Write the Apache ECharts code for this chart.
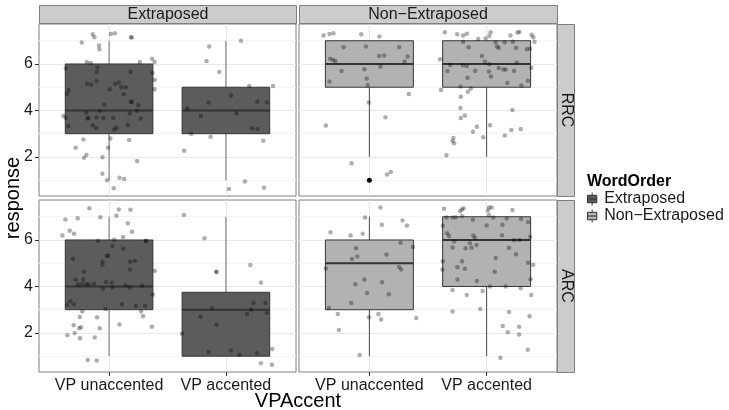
<!DOCTYPE html>
<html>
<head>
<meta charset="utf-8">
<title>response by VPAccent, WordOrder and clause type</title>
<script src="https://cdn.jsdelivr.net/npm/echarts@6.0.0/dist/echarts.min.js"></script>
<style>
html, body { margin: 0; padding: 0; background: #fff; }
#chart { width: 729px; height: 410px; }
</style>
</head>
<body>
<div id="chart"></div>
<script>
const vpAccent = ['VP unaccented', 'VP accented'];
const wordOrder = ['Extraposed', 'Non\u2212Extraposed'];
const clauseType = ['RRC', 'ARC'];
const yTicks = [2, 4, 6];
const yMinorTicks = [1, 3, 5, 7];

// box stats per VPAccent level: [min, Q1, median, Q3, max]
const boxExtraposedRRC = [[1, 3, 4, 6, 7], [1, 3, 4, 5, 7]];
const boxNonExtraposedRRC = [[2, 5, 6, 7, 7], [2, 5, 6, 7, 7]];
const boxExtraposedARC = [[1, 3, 4, 6, 7], [1, 1, 3, 3.75, 7]];
const boxNonExtraposedARC = [[1, 3, 5, 6, 7], [1, 4, 6, 7, 7]];

// outliers [VPAccent index, response]
const outliersNonExtraposedRRC = [[0, 1]];

// jittered responses: [horizontal jitter, response]
const jitExtraposedRRCUnacc = [[-0.14,7.28],[-0.126,7.15],[0.014,7.29],[0.049,7.32],[0.189,7.15],[0.192,7.14],[-0.234,6.92],[-0.086,6.79],[-0.083,6.63],[-0.19,6.09],[-0.157,6.04],[-0.1,5.86],[-0.106,5.66],[0.263,6.09],[0.369,6.23],[0.389,6.09],[-0.371,5.81],[0.371,5.61],[0.391,5.31],[0.389,4.91],[0.183,5.67],[-0.109,5.27],[-0.189,5.15],[-0.154,5.11],[-0.346,4.88],[-0.36,4.72],[0.006,4.91],[0.051,5.14],[0.083,5.2],[0.103,5.0],[0.143,5.0],[0.126,4.7],[-0.04,4.25],[0.186,4.37],[0.194,4.36],[0.251,4.22],[-0.08,3.98],[-0.197,3.91],[0.177,3.88],[0.24,3.99],[-0.391,3.76],[-0.371,3.68],[-0.183,3.66],[-0.18,3.67],[-0.109,3.7],[-0.049,3.68],[0.037,3.68],[0.271,3.65],[-0.349,3.33],[-0.14,3.36],[-0.111,3.25],[0.043,3.18],[0.063,3.26],[0.16,3.38],[-0.22,2.75],[0.011,2.79],[0.171,2.73],[-0.286,2.4],[-0.009,2.4],[-0.194,2.09],[-0.214,1.97],[-0.057,1.99],[0.24,1.83],[-0.057,1.28],[-0.017,1.0],[0.089,1.11],[0.129,1.05],[0.04,0.65]];
const jitExtraposedRRCAcc = [[0.129,7.0],[-0.143,6.75],[-0.166,6.13],[-0.057,5.66],[0.2,5.05],[0.403,5.05],[0.043,4.64],[-0.149,4.34],[0.269,4.38],[0.351,4.35],[-0.331,4.08],[0.091,3.88],[-0.214,3.76],[0.223,3.23],[0.271,3.2],[-0.297,3.0],[-0.131,2.87],[0.32,2.7],[-0.357,2.27],[0.163,0.94],[0.026,0.62],[0.326,0.67]];
const jitNonExtraposedRRCUnacc = [[-0.391,7.22],[-0.34,7.29],[-0.306,7.32],[-0.069,7.28],[0.086,7.18],[-0.22,6.72],[-0.029,6.75],[0.254,6.72],[-0.334,6.22],[-0.309,6.17],[-0.289,6.13],[0.083,6.34],[0.126,6.36],[0.326,6.32],[0.3,6.11],[0.094,5.89],[-0.237,5.7],[-0.043,5.77],[-0.023,5.37],[-0.34,5.25],[-0.014,5.1],[0.337,4.71],[-0.006,4.34],[0.137,3.71],[-0.371,3.35],[-0.151,1.73],[0.151,1.25],[0.183,1.35]];
const jitNonExtraposedRRCAcc = [[-0.357,7.36],[-0.251,7.28],[-0.2,7.22],[-0.169,7.3],[0.034,7.36],[0.023,7.2],[-0.071,7.08],[-0.009,7.1],[0.203,7.23],[0.263,7.35],[0.28,7.38],[0.383,7.26],[0.397,7.15],[0.409,6.96],[-0.2,6.96],[0.077,6.93],[0.154,6.93],[0.223,6.96],[0.089,6.75],[0.103,6.69],[-0.154,6.72],[0.251,6.7],[0.343,6.63],[0.369,6.65],[-0.04,6.34],[-0.397,6.2],[-0.014,6.1],[-0.311,5.96],[-0.203,5.94],[-0.169,5.91],[0.023,5.99],[0.257,6.06],[-0.334,5.7],[-0.097,5.71],[0.02,5.68],[0.103,5.83],[0.143,5.76],[0.163,5.76],[0.234,5.71],[0.38,5.84],[-0.163,5.41],[0.037,5.46],[0.177,5.18],[0.351,5.28],[-0.389,4.88],[-0.223,5.03],[-0.134,4.95],[-0.16,4.8],[0.297,5.07],[-0.22,4.59],[-0.223,4.11],[-0.22,3.68],[-0.186,3.78],[0.22,4.02],[-0.083,3.3],[-0.117,3.08],[0.029,3.36],[0.211,3.16],[0.291,3.2],[0.154,2.92],[-0.029,2.85],[-0.283,2.82],[-0.291,2.69],[-0.277,2.59],[-0.343,2.07]];
const jitExtraposedARCUnacc = [[-0.169,7.37],[0.083,7.31],[0.183,7.3],[-0.374,6.88],[-0.269,6.94],[-0.074,6.98],[0.063,7.04],[0.16,6.72],[-0.337,6.4],[-0.3,6.27],[-0.4,6.19],[0.12,6.13],[0.197,6.35],[-0.097,5.97],[0.043,6.01],[0.314,5.96],[0.317,5.97],[0.029,5.74],[0.123,5.62],[-0.309,5.19],[-0.02,5.32],[-0.006,5.32],[-0.057,5.06],[-0.057,4.92],[0.18,5.06],[0.22,5.1],[0.177,4.73],[0.391,4.66],[-0.214,4.63],[-0.22,4.3],[-0.286,4.3],[-0.229,4.1],[-0.194,4.1],[-0.174,4.1],[-0.131,4.12],[-0.266,4.08],[-0.026,4.19],[0.023,4.17],[-0.054,3.91],[0.029,3.96],[0.14,4.05],[0.177,3.96],[0.283,4.04],[0.374,3.65],[-0.331,3.36],[-0.36,3.21],[-0.3,3.24],[0.109,3.24],[0.229,3.16],[0.309,3.16],[-0.031,3.03],[-0.229,2.92],[0.274,2.92],[0.291,2.72],[-0.251,2.69],[-0.103,2.68],[0.366,2.27],[0.089,2.36],[-0.303,2.33],[-0.257,2.2],[-0.24,2.25],[-0.08,2.2],[-0.294,2.0],[-0.357,1.9],[-0.249,1.77],[-0.123,1.8],[-0.183,0.84],[-0.106,0.82]];
const jitExtraposedARCAcc = [[-0.36,7.08],[-0.183,6.07],[-0.083,4.63],[-0.08,4.62],[0.209,4.92],[0.3,4.17],[-0.12,3.07],[-0.217,2.71],[-0.08,2.36],[0.237,3.29],[0.339,3.29],[0.18,2.82],[0.217,3.01],[0.351,2.87],[-0.377,1.97],[-0.149,1.18],[0.043,1.24],[0.117,1.06],[0.266,1.13],[0.397,1.31],[0.3,0.7],[0.394,0.63]];
const jitNonExtraposedARCUnacc = [[0.094,7.4],[-0.037,6.97],[0.283,6.84],[0.32,6.62],[0.106,6.66],[-0.331,6.33],[-0.16,6.19],[-0.057,6.27],[0.266,5.88],[0.371,5.7],[-0.114,5.64],[0.146,5.38],[-0.103,5.29],[-0.149,5.18],[0.254,4.84],[0.271,4.73],[-0.371,4.77],[-0.043,4.3],[0.109,4.18],[-0.12,4.09],[-0.02,3.72],[0.166,3.66],[-0.154,3.29],[-0.346,3.07],[-0.269,2.81],[-0.003,2.68],[0.077,2.81],[0.1,2.58],[0.4,2.64],[-0.26,2.13],[-0.083,1.05]];
const jitNonExtraposedARCAcc = [[-0.363,7.34],[-0.226,7.24],[-0.211,7.31],[-0.197,7.37],[0.02,7.4],[0.043,7.4],[0.011,7.27],[0.22,7.29],[-0.343,6.97],[-0.263,6.98],[-0.209,7.03],[-0.289,6.97],[0.02,7.08],[0.057,6.97],[-0.117,6.87],[0.171,6.92],[0.294,6.9],[-0.374,6.61],[0.0,6.62],[0.134,6.65],[0.354,6.77],[-0.337,6.29],[-0.32,6.17],[-0.114,6.19],[-0.1,6.1],[0.131,6.2],[0.371,6.14],[-0.277,5.93],[-0.143,5.86],[-0.086,5.78],[0.234,5.99],[0.28,6.0],[-0.291,5.68],[-0.18,5.64],[-0.129,5.67],[0.191,5.67],[0.251,5.39],[0.077,5.23],[-0.374,5.09],[-0.209,5.09],[0.354,5.02],[0.397,4.93],[-0.377,4.73],[-0.249,4.83],[-0.186,4.76],[0.069,4.63],[0.374,4.31],[-0.249,4.3],[-0.083,4.24],[0.029,4.0],[0.163,4.0],[0.291,3.92],[-0.291,3.85],[-0.034,3.81],[-0.169,3.63],[0.38,3.63],[-0.054,3.03],[-0.291,2.92],[0.191,2.9],[0.366,2.72],[0.137,2.3],[0.277,2.27],[0.18,2.03],[0.277,1.93],[0.351,1.28],[0.117,0.93]];

const FONT = '"Liberation Sans", Arial, sans-serif';
const BOX_WIDTH = 0.75;
const fills = ['#5c5c5c', '#b2b2b2'];
const whiskerColors = ['#707070', '#484848'];

const panels = [
  { left: 39, top: 24, width: 257, wo: 0, box: boxExtraposedRRC, jit: [jitExtraposedRRCUnacc, jitExtraposedRRCAcc], out: [] },
  { left: 299, top: 24, width: 258, wo: 1, box: boxNonExtraposedRRC, jit: [jitNonExtraposedRRCUnacc, jitNonExtraposedRRCAcc], out: outliersNonExtraposedRRC },
  { left: 39, top: 200, width: 257, wo: 0, box: boxExtraposedARC, jit: [jitExtraposedARCUnacc, jitExtraposedARCAcc], out: [] },
  { left: 299, top: 200, width: 258, wo: 1, box: boxNonExtraposedARC, jit: [jitNonExtraposedARCUnacc, jitNonExtraposedARCAcc], out: [] },
];
const PANEL_H = 172;

function makeBoxRenderer(fill, whisker) {
  return function (params, api) {
    const x = api.value(0);
    const ll = api.coord([x - BOX_WIDTH / 2, api.value(2)]);
    const ur = api.coord([x + BOX_WIDTH / 2, api.value(4)]);
    const mid = api.coord([x, api.value(3)]);
    const lo = api.coord([x, api.value(1)]);
    const hi = api.coord([x, api.value(5)]);
    return {
      type: 'group',
      children: [
        { type: 'line', shape: { x1: mid[0], y1: hi[1], x2: mid[0], y2: ur[1] }, style: { stroke: whisker, lineWidth: 1 } },
        { type: 'line', shape: { x1: mid[0], y1: ll[1], x2: mid[0], y2: lo[1] }, style: { stroke: whisker, lineWidth: 1 } },
        { type: 'rect', shape: { x: ll[0], y: ur[1], width: ur[0] - ll[0], height: ll[1] - ur[1] }, style: { fill: fill, stroke: '#363636', lineWidth: 1 } },
        { type: 'line', shape: { x1: ll[0], y1: mid[1], x2: ur[0], y2: mid[1] }, style: { stroke: '#333', lineWidth: 2 } },
      ],
    };
  };
}

const grid = [], xAxis = [], yAxis = [], series = [];
panels.forEach((p, i) => {
  const bottomRow = i >= 2;
  const leftCol = i % 2 === 0;
  grid.push({ left: p.left, top: p.top, width: p.width, height: PANEL_H, show: true, backgroundColor: '#fff', borderColor: '#7f7f7f', borderWidth: 1 });
  xAxis.push({
    type: 'value', gridIndex: i, min: 0.4, max: 2.6,
    axisLine: { show: false }, splitLine: { show: false },
    axisTick: { show: bottomRow, customValues: [1, 2], length: 4, lineStyle: { color: '#333' } },
    axisLabel: { show: bottomRow, customValues: [1, 2], formatter: v => vpAccent[Math.round(v) - 1], fontSize: 16, color: '#1a1a1a', fontFamily: FONT, margin: 6 },
  });
  yAxis.push({
    type: 'value', gridIndex: i, min: 0.32, max: 7.72,
    axisLine: { show: false }, splitLine: { show: false },
    axisTick: { show: leftCol, customValues: yTicks, length: 4, lineStyle: { color: '#333' } },
    axisLabel: { show: leftCol, customValues: yTicks, fontSize: 16, color: '#1a1a1a', fontFamily: FONT, margin: 6 },
  });
  // panel grid lines, kept under the boxes
  series.push({
    type: 'scatter', xAxisIndex: i, yAxisIndex: i, data: [], z: 0, silent: true,
    markLine: {
      silent: true, symbol: 'none', label: { show: false }, animation: false, z: 0,
      emphasis: { disabled: true },
      data: yMinorTicks.map(v => ({ yAxis: v, lineStyle: { color: '#f4f4f4', width: 1, type: 'solid' } }))
        .concat(yTicks.map(v => ({ yAxis: v, lineStyle: { color: '#e8e8e8', width: 1, type: 'solid' } })))
        .concat([1, 2].map(v => ({ xAxis: v, lineStyle: { color: '#e8e8e8', width: 1, type: 'solid' } }))),
    },
  });
  series.push({
    type: 'custom', name: wordOrder[p.wo], xAxisIndex: i, yAxisIndex: i, z: 6, silent: true,
    itemStyle: { color: fills[p.wo] },
    renderItem: makeBoxRenderer(fills[p.wo], whiskerColors[p.wo]),
    encode: { x: 0, y: [1, 2, 3, 4, 5] },
    data: p.box.map((b, k) => [k + 1].concat(b)),
  });
  series.push({
    type: 'scatter', xAxisIndex: i, yAxisIndex: i, z: 7, silent: true,
    symbolSize: 4.5, itemStyle: { color: 'rgba(0,0,0,0.4)' },
    data: p.jit[0].map(d => [1 + d[0], d[1]]).concat(p.jit[1].map(d => [2 + d[0], d[1]])),
  });
  if (p.out.length) {
    series.push({
      type: 'scatter', xAxisIndex: i, yAxisIndex: i, z: 8, silent: true,
      symbol: 'circle', symbolSize: 5, itemStyle: { color: '#000', opacity: 1 },
      data: p.out.map(d => [d[0] + 1, d[1]]),
    });
  }
});

const stripStyle = { fill: '#cccccc', stroke: '#7f7f7f', lineWidth: 1 };
const stripText = { fill: '#1a1a1a', fontSize: 16, fontFamily: FONT, align: 'center', verticalAlign: 'middle', textAlign: 'center', textVerticalAlign: 'middle' };
const graphic = [
  { type: 'rect', shape: { x: 39.5, y: 5.5, width: 257, height: 18 }, style: stripStyle },
  { type: 'rect', shape: { x: 299.5, y: 5.5, width: 258, height: 18 }, style: stripStyle },
  { type: 'rect', shape: { x: 557.5, y: 24.5, width: 17, height: PANEL_H }, style: stripStyle },
  { type: 'rect', shape: { x: 557.5, y: 200.5, width: 17, height: PANEL_H }, style: stripStyle },
  { type: 'text', x: 168, y: 15, style: Object.assign({ text: wordOrder[0] }, stripText) },
  { type: 'text', x: 428, y: 15, style: Object.assign({ text: wordOrder[1] }, stripText) },
  { type: 'text', x: 566, y: 110, rotation: -Math.PI / 2, style: Object.assign({ text: clauseType[0] }, stripText) },
  { type: 'text', x: 566, y: 286, rotation: -Math.PI / 2, style: Object.assign({ text: clauseType[1] }, stripText) },
  { type: 'text', x: 13, y: 198, rotation: Math.PI / 2, style: { text: 'response', fill: '#000', fontSize: 20, fontFamily: FONT, align: 'center', verticalAlign: 'middle', textAlign: 'center', textVerticalAlign: 'middle' } },
  { type: 'text', x: 298, y: 401, style: { text: 'VPAccent', fill: '#000', fontSize: 20, fontFamily: FONT, align: 'center', verticalAlign: 'middle', textAlign: 'center', textVerticalAlign: 'middle' } },
  { type: 'text', x: 587, y: 182, style: { text: 'WordOrder', fill: '#000', fontSize: 16, fontWeight: 'bold', fontFamily: FONT, align: 'left', verticalAlign: 'middle', textAlign: 'left', textVerticalAlign: 'middle' } },
];

// small boxplot glyph for the legend keys
const boxGlyph = 'path://M7,0L7,3M2,3L12,3L12,11L2,11ZM2,7L12,7M7,11L7,14';

const chart = echarts.init(document.getElementById('chart'), null, { renderer: 'canvas' });
chart.setOption({
  animation: false,
  backgroundColor: '#fff',
  grid, xAxis, yAxis, series, graphic,
  legend: {
    left: 587, top: 191, orient: 'vertical', padding: 0,
    itemWidth: 14, itemHeight: 13, itemGap: 1, icon: boxGlyph, selectedMode: false,
    textStyle: { fontSize: 16, color: '#1a1a1a', fontFamily: FONT },
    data: wordOrder.map((w, k) => ({ name: w, itemStyle: { color: fills[k], borderColor: '#333', borderWidth: 1 } })),
  },
});
</script>
</body>
</html>
